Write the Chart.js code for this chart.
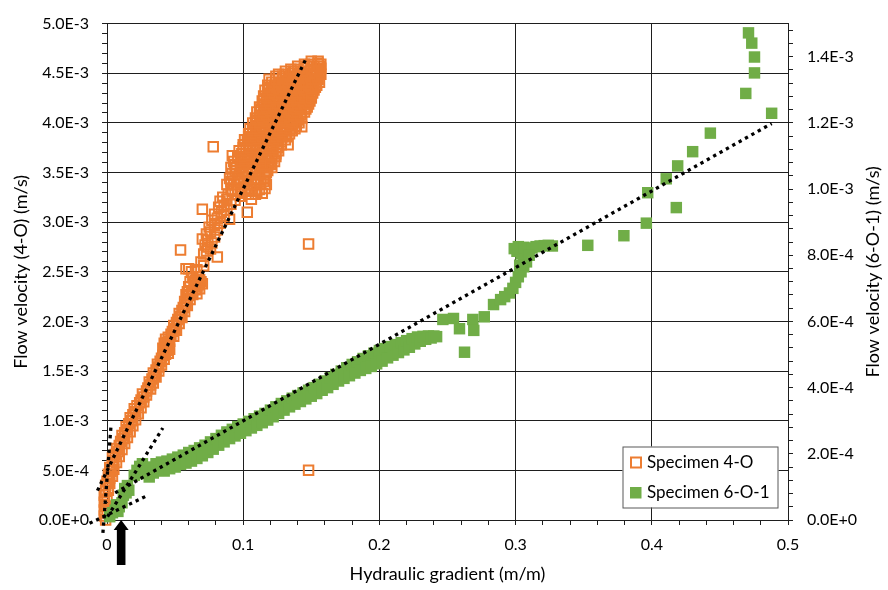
<!DOCTYPE html>
<html>
<head>
<meta charset="utf-8">
<script src="https://cdn.jsdelivr.net/npm/chart.js@4.4.1/dist/chart.umd.min.js"></script>
<style>
  html, body { margin: 0; padding: 0; background: #fff; }
  #wrap { width: 888px; height: 590px; }
</style>
</head>
<body>
<div id="wrap"><canvas id="flowChart"></canvas></div>
<script>
// x = hydraulic gradient (m/m), y = flow velocity in units of 1E-3 m/s
var specimen4O = [
  [-0.001,0.00],[-0.002,0.04],[0.000,0.07],[-0.002,0.10],[-0.001,0.14],[-0.002,0.18],[0.000,0.21],[-0.002,0.25],
  [-0.001,0.29],[0.001,0.32],[-0.001,0.35],[0.000,0.39],[0.002,0.42],[0.001,0.46],[0.003,0.49],[0.002,0.53],
  [0.004,0.56],[0.005,0.60],[0.004,0.63],[0.006,0.66],[0.008,0.69],[0.007,0.72],[0.009,0.75],[0.010,0.79],
  [0.012,0.82],[0.011,0.85],[0.013,0.88],[0.015,0.91],[0.014,0.94],[0.016,0.97],[0.018,1.00],[0.017,1.03],
  [0.019,1.06],[0.021,1.09],[0.020,1.12],[0.022,1.15],[0.024,1.18],[0.025,1.21],[0.027,1.24],[0.026,1.27],
  [0.029,1.30],[0.030,1.33],[0.032,1.36],[0.031,1.39],[0.033,1.42],[0.035,1.45],[0.034,1.48],[0.036,1.51],
  [0.038,1.54],[0.037,1.57],[0.039,1.60],[0.040,1.63],
  [0.001,0.30],[0.002,0.37],[0.004,0.44],[0.005,0.51],[0.007,0.58],[0.009,0.64],[0.011,0.71],[0.013,0.77],
  [0.015,0.83],[0.017,0.89],[0.019,0.95],[0.021,1.01],[0.023,1.07],[0.025,1.13],[0.027,1.19],[0.029,1.26],
  [0.032,1.32],[0.034,1.38],[0.036,1.44],[0.038,1.50],[0.040,1.56],[0.042,1.62],
  [0.041,1.66],[0.043,1.67],[0.045,1.68],[0.042,1.70],[0.044,1.71],[0.046,1.72],[0.041,1.73],[0.043,1.75],
  [0.045,1.76],[0.042,1.78],[0.044,1.79],[0.046,1.80],[0.043,1.82],[0.045,1.84],
  [0.047,1.87],[0.048,1.90],[0.050,1.93],[0.049,1.96],[0.051,1.99],[0.052,2.02],[0.054,2.05],[0.053,2.08],
  [0.055,2.11],[0.056,2.14],[0.058,2.17],[0.057,2.20],[0.059,2.23],
  [0.049,1.85],[0.051,1.91],[0.053,1.98],[0.055,2.04],[0.057,2.10],[0.059,2.16],[0.061,2.22],
  [0.060,2.26],[0.063,2.27],[0.066,2.28],[0.059,2.30],[0.062,2.31],[0.065,2.32],[0.068,2.33],[0.060,2.35],
  [0.064,2.36],[0.067,2.37],[0.070,2.38],[0.061,2.40],[0.065,2.41],[0.068,2.42],[0.063,2.44],[0.066,2.45],
  [0.062,2.29],[0.066,2.35],[0.069,2.40],[0.064,2.39],[0.058,2.27],
  [0.060,2.53],[0.062,2.50],[0.066,2.52],[0.069,2.60],[0.071,2.56],[0.058,2.53],
  [0.054,2.72],[0.081,2.65],[0.070,2.83],[0.074,2.75],
  [0.071,2.68],[0.073,2.71],[0.076,2.73],[0.072,2.77],[0.077,2.79],[0.074,2.82],[0.079,2.85],[0.073,2.88],
  [0.076,2.90],[0.081,2.92],[0.075,2.95],[0.079,2.97],[0.083,2.99],[0.077,3.02],[0.081,3.04],[0.086,3.06],
  [0.090,3.03],[0.079,3.08],[0.084,3.10],[0.088,3.12],[0.103,3.10],[0.070,3.13],[0.082,3.15],[0.086,3.17],
  [0.091,3.18],[0.083,3.21],[0.088,3.23],[0.094,3.22],[0.106,3.23],[0.085,3.25],[0.098,3.26],
  [0.089,3.28],[0.094,3.28],[0.099,3.29],[0.104,3.28],[0.109,3.28],[0.114,3.29],
  [0.092,3.31],[0.098,3.31],[0.104,3.31],[0.110,3.31],
  [0.091,3.33],[0.096,3.33],[0.101,3.34],[0.106,3.33],[0.112,3.33],[0.116,3.34],
  [0.088,3.38],[0.093,3.38],[0.098,3.39],[0.103,3.38],[0.108,3.38],[0.113,3.39],[0.117,3.38],
  [0.091,3.41],[0.097,3.41],[0.103,3.41],[0.109,3.41],[0.115,3.41],
  [0.090,3.44],[0.096,3.44],[0.101,3.45],[0.106,3.44],[0.111,3.44],[0.116,3.45],
  [0.092,3.49],[0.097,3.49],[0.102,3.50],[0.107,3.49],[0.112,3.49],[0.117,3.50],
  [0.094,3.52],[0.100,3.52],[0.106,3.52],[0.112,3.52],[0.118,3.52],
  [0.091,3.55],[0.095,3.55],[0.100,3.56],[0.105,3.55],[0.110,3.55],[0.115,3.56],[0.121,3.55],
  [0.094,3.58],[0.099,3.58],[0.104,3.58],[0.109,3.58],[0.114,3.58],[0.119,3.58],
  [0.093,3.61],[0.098,3.61],[0.103,3.62],[0.108,3.61],[0.113,3.61],[0.118,3.62],[0.123,3.61],
  [0.096,3.64],[0.101,3.64],[0.106,3.64],[0.111,3.64],[0.116,3.64],[0.121,3.64],
  [0.096,3.66],[0.101,3.66],[0.106,3.67],[0.111,3.66],[0.116,3.66],[0.121,3.67],[0.124,3.66],
  [0.099,3.69],[0.104,3.69],[0.109,3.69],[0.114,3.69],[0.119,3.69],[0.124,3.69],
  [0.097,3.72],[0.102,3.72],[0.107,3.73],[0.112,3.72],[0.117,3.72],[0.122,3.73],[0.126,3.72],
  [0.100,3.75],[0.105,3.75],[0.110,3.75],[0.115,3.75],[0.120,3.75],[0.125,3.75],
  [0.100,3.78],[0.105,3.78],[0.110,3.79],[0.115,3.78],[0.120,3.78],[0.125,3.79],[0.128,3.78],
  [0.103,3.81],[0.108,3.81],[0.113,3.81],[0.118,3.81],[0.123,3.81],[0.128,3.81],
  [0.101,3.83],[0.106,3.83],[0.111,3.84],[0.116,3.83],[0.121,3.83],[0.126,3.84],[0.131,3.83],
  [0.104,3.86],[0.109,3.86],[0.114,3.86],[0.119,3.86],[0.124,3.86],[0.129,3.86],[0.132,3.86],
  [0.104,3.89],[0.109,3.89],[0.114,3.90],[0.119,3.89],[0.124,3.89],[0.129,3.90],[0.134,3.89],
  [0.107,3.92],[0.112,3.92],[0.117,3.92],[0.122,3.92],[0.127,3.92],[0.132,3.92],[0.136,3.92],
  [0.105,3.94],[0.110,3.94],[0.115,3.95],[0.120,3.94],[0.125,3.94],[0.130,3.95],[0.135,3.94],[0.138,3.94],
  [0.109,3.97],[0.114,3.97],[0.119,3.97],[0.124,3.97],[0.129,3.97],[0.134,3.97],[0.139,3.97],
  [0.107,4.00],[0.112,4.00],[0.117,4.01],[0.122,4.00],[0.127,4.00],[0.132,4.01],[0.137,4.00],[0.141,4.00],
  [0.110,4.03],[0.115,4.03],[0.120,4.03],[0.125,4.03],[0.130,4.03],[0.135,4.03],[0.140,4.03],
  [0.109,4.05],[0.114,4.05],[0.119,4.06],[0.124,4.05],[0.129,4.05],[0.134,4.06],[0.139,4.05],[0.143,4.05],
  [0.112,4.08],[0.117,4.08],[0.122,4.08],[0.127,4.08],[0.132,4.08],[0.137,4.08],[0.142,4.08],
  [0.110,4.11],[0.115,4.11],[0.120,4.12],[0.125,4.11],[0.130,4.11],[0.135,4.12],[0.140,4.11],[0.145,4.11],
  [0.113,4.14],[0.118,4.14],[0.123,4.14],[0.128,4.14],[0.133,4.14],[0.138,4.14],[0.143,4.14],[0.146,4.14],
  [0.112,4.16],[0.117,4.16],[0.122,4.17],[0.127,4.16],[0.132,4.16],[0.137,4.17],[0.142,4.16],[0.147,4.16],
  [0.115,4.19],[0.120,4.19],[0.125,4.19],[0.130,4.19],[0.135,4.19],[0.140,4.19],[0.145,4.19],[0.148,4.19],
  [0.114,4.22],[0.119,4.22],[0.124,4.23],[0.129,4.22],[0.134,4.22],[0.139,4.23],[0.144,4.22],[0.149,4.22],
  [0.117,4.25],[0.122,4.25],[0.127,4.25],[0.132,4.25],[0.137,4.25],[0.142,4.25],[0.147,4.25],
  [0.115,4.27],[0.120,4.27],[0.125,4.28],[0.130,4.27],[0.135,4.27],[0.140,4.28],[0.145,4.27],[0.150,4.27],
  [0.118,4.30],[0.123,4.30],[0.128,4.30],[0.133,4.30],[0.138,4.30],[0.143,4.30],[0.148,4.30],[0.151,4.30],
  [0.116,4.33],[0.121,4.33],[0.126,4.34],[0.131,4.33],[0.136,4.33],[0.141,4.34],[0.146,4.33],[0.152,4.33],
  [0.119,4.36],[0.124,4.36],[0.129,4.36],[0.134,4.36],[0.139,4.36],[0.144,4.36],[0.149,4.36],[0.153,4.36],
  [0.118,4.38],[0.123,4.38],[0.128,4.39],[0.133,4.38],[0.138,4.38],[0.143,4.39],[0.148,4.38],[0.154,4.38],
  [0.121,4.41],[0.126,4.41],[0.131,4.41],[0.136,4.41],[0.141,4.41],[0.146,4.41],[0.151,4.41],[0.156,4.41],
  [0.119,4.44],[0.124,4.44],[0.129,4.45],[0.134,4.44],[0.139,4.44],[0.144,4.45],[0.150,4.44],[0.155,4.44],
  [0.124,4.47],[0.129,4.47],[0.134,4.47],[0.139,4.47],[0.144,4.47],[0.149,4.47],[0.154,4.47],
  [0.126,4.49],[0.131,4.49],[0.136,4.50],[0.141,4.49],[0.146,4.49],[0.151,4.50],[0.157,4.49],
  [0.131,4.52],[0.137,4.52],[0.142,4.52],[0.147,4.52],[0.152,4.52],[0.156,4.52],
  [0.135,4.54],[0.140,4.54],[0.145,4.55],[0.150,4.54],[0.154,4.54],[0.157,4.55],
  [0.140,4.57],[0.147,4.57],[0.152,4.57],[0.156,4.57],
  [0.145,4.59],[0.150,4.59],[0.155,4.60],[0.157,4.59],[0.150,4.62],[0.155,4.62],
  [0.078,3.76],[0.092,3.67],[0.120,3.58],[0.133,3.78],[0.143,3.96],[0.150,4.25],[0.116,3.48],
  [0.148,2.78],[0.148,0.50]
];

// right axis, units of 1E-3 m/s
var specimen6O1 = [
  [0.002,0.010],[0.004,0.022],[0.006,0.030],[0.008,0.026],[0.009,0.040],[0.007,0.046],[0.011,0.052],
  [0.012,0.075],[0.014,0.082],[0.013,0.095],[0.015,0.104],[0.016,0.090],
  [0.020,0.135],[0.022,0.150],[0.024,0.162],[0.026,0.170],[0.023,0.140],[0.027,0.155],[0.029,0.148],
  [0.031,0.130],[0.032,0.160],[0.034,0.142],[0.036,0.170],[0.038,0.150],[0.040,0.175],[0.042,0.148],
  [0.044,0.178],[0.046,0.155],[0.048,0.184],[0.050,0.160],[0.052,0.190],[0.054,0.168],[0.056,0.196],
  [0.058,0.172],[0.060,0.204],[0.062,0.178],[0.064,0.210],[0.066,0.186],[0.068,0.218],[0.070,0.194],
  [0.072,0.226],[0.074,0.204],[0.076,0.236],[0.078,0.214],[0.080,0.246],[0.082,0.226],[0.084,0.256],
  [0.086,0.236],[0.088,0.266],[0.090,0.246],[0.092,0.274],[0.094,0.254],[0.096,0.282],[0.098,0.262],
  [0.100,0.290],[0.102,0.270],[0.104,0.298],[0.106,0.278],[0.108,0.306],[0.110,0.286],[0.112,0.314],
  [0.114,0.294],[0.116,0.322],[0.118,0.302],[0.120,0.332],[0.122,0.312],[0.124,0.342],[0.126,0.322],
  [0.128,0.352],[0.130,0.332],[0.132,0.360],[0.134,0.342],[0.136,0.368],[0.138,0.350],[0.140,0.376],
  [0.142,0.358],[0.144,0.384],[0.146,0.366],[0.148,0.392],[0.150,0.374],
  [0.152,0.400],[0.154,0.382],[0.156,0.410],[0.158,0.392],[0.160,0.420],[0.162,0.400],[0.164,0.430],
  [0.166,0.410],[0.168,0.440],[0.170,0.420],[0.172,0.450],[0.174,0.428],[0.176,0.460],[0.178,0.436],
  [0.180,0.470],[0.182,0.444],[0.184,0.478],[0.186,0.452],[0.188,0.488],[0.190,0.458],[0.192,0.496],
  [0.194,0.464],[0.196,0.504],[0.198,0.472],[0.200,0.512],[0.202,0.480],[0.204,0.518],[0.206,0.490],
  [0.208,0.524],[0.210,0.498],[0.212,0.530],[0.214,0.506],[0.216,0.536],[0.218,0.514],[0.220,0.542],
  [0.222,0.522],[0.224,0.548],[0.226,0.532],[0.228,0.553],[0.230,0.540],[0.232,0.555],[0.234,0.546],
  [0.236,0.556],[0.238,0.550],[0.240,0.556],[0.242,0.554],
  [0.2466,0.606],[0.2544,0.609],[0.2588,0.578],[0.2625,0.507],[0.2686,0.606],[0.2693,0.573],
  [0.277,0.614],[0.2838,0.651],[0.289,0.666],[0.2955,0.686],
  [0.292,0.675],[0.298,0.700],[0.300,0.718],[0.302,0.735],[0.304,0.750],[0.306,0.765],[0.308,0.780],
  [0.306,0.795],[0.304,0.805],[0.301,0.812],[0.299,0.820],[0.302,0.826],[0.306,0.824],[0.309,0.818],
  [0.312,0.822],[0.315,0.826],[0.318,0.828],[0.321,0.829],[0.324,0.830],[0.327,0.828],[0.310,0.800],
  [0.303,0.770],
  [0.353,0.830],[0.3795,0.859],[0.396,0.897],[0.397,0.989],[0.4106,1.031],[0.418,0.944],[0.419,1.070],
  [0.430,1.113],[0.443,1.169],[0.469,1.289],[0.488,1.229],[0.4754,1.351],[0.4754,1.399],[0.4734,1.441],
  [0.471,1.472]
];

// dotted trend lines (end points)
var trend4O = [[-0.007, 0.296], [0.1466, 4.66]];
var trend4OStart = [[-0.003, -0.13], [0.003, 0.96]];
var trend6O1 = [[0.006, 0.082], [0.488, 1.198]];
var trend6O1Start = [[0.0004, 0.01], [0.041, 0.278]];
var trend6O1Low = [[-0.0128, -0.01], [0.030, 0.0745]];

var seriesNames = ['Specimen 4-O', 'Specimen 6-O-1'];

var xMajor = [0, 0.1, 0.2, 0.3, 0.4, 0.5];
var xLabels = ['0', '0.1', '0.2', '0.3', '0.4', '0.5'];
var leftMajor = [0, 0.5, 1, 1.5, 2, 2.5, 3, 3.5, 4, 4.5, 5];
var leftLabels = ['0.0E+0', '5.0E-4', '1.0E-3', '1.5E-3', '2.0E-3', '2.5E-3', '3.0E-3', '3.5E-3', '4.0E-3', '4.5E-3', '5.0E-3'];
var rightMajor = [0, 0.2, 0.4, 0.6, 0.8, 1.0, 1.2, 1.4];
var rightLabels = ['0.0E+0', '2.0E-4', '4.0E-4', '6.0E-4', '8.0E-4', '1.0E-3', '1.2E-3', '1.4E-3'];

var arrowAt = 0.0104;

var orange = '#ED7D31';
var green = '#70AD47';
var lineCol = '#1e1e1e';
var fontFam = 'Lato, "Open Sans", sans-serif';

function pts(a) {
  return a.map(function (p) { return {x: p[0], y: p[1]}; });
}

function majorIndex(v, list) {
  for (var i = 0; i < list.length; i++) {
    if (Math.abs(v - list[i]) < 1e-6) return i;
  }
  return -1;
}

function trendSet(name, data, axis) {
  return {
    label: name,
    data: pts(data),
    yAxisID: axis,
    showLine: true,
    pointRadius: 0,
    borderColor: '#000',
    borderWidth: 3.3,
    borderDash: [3.3, 4],
    borderCapStyle: 'butt',
    clip: false,
    order: 0
  };
}

var extras = {
  id: 'extras',
  afterDraw: function (chart) {
    var c = chart.ctx;
    var area = chart.chartArea;
    c.save();

    // right axis title, reads bottom to top
    c.fillStyle = '#000';
    c.font = '18px ' + fontFam;
    c.textAlign = 'center';
    c.textBaseline = 'middle';
    c.translate(873, (area.top + area.bottom) / 2);
    c.rotate(-Math.PI / 2);
    c.fillText('Flow velocity (6-O-1) (m/s)', 0, 0);
    c.setTransform(1, 0, 0, 1, 0, 0);

    // arrow under the x axis
    var ax = chart.scales.x.getPixelForValue(arrowAt);
    var b = area.bottom;
    c.fillStyle = '#000';
    c.beginPath();
    c.moveTo(ax, b);
    c.lineTo(ax + 7.5, b + 10);
    c.lineTo(ax + 4.3, b + 10);
    c.lineTo(ax + 4.3, b + 45);
    c.lineTo(ax - 4.3, b + 45);
    c.lineTo(ax - 4.3, b + 10);
    c.lineTo(ax - 7.5, b + 10);
    c.closePath();
    c.fill();

    // legend box
    var lx = area.right - 165.5, ly = area.bottom - 73.5;
    c.fillStyle = '#fff';
    c.fillRect(lx, ly, 156, 61);
    c.strokeStyle = '#595959';
    c.lineWidth = 1;
    c.strokeRect(lx + 0.5, ly + 0.5, 155, 61);

    c.strokeStyle = orange;
    c.lineWidth = 2;
    c.strokeRect(lx + 8.5, ly + 11, 10, 10);
    c.fillStyle = green;
    c.fillRect(lx + 7.5, ly + 40.5, 11.5, 11.5);

    c.fillStyle = '#000';
    c.font = '17px ' + fontFam;
    c.textAlign = 'left';
    c.textBaseline = 'middle';
    c.fillText(seriesNames[0], lx + 24.5, ly + 16.5);
    c.fillText(seriesNames[1], lx + 24.5, ly + 46.5);
    c.restore();
  }
};

var ctx = document.getElementById('flowChart');
var myChart = new Chart(ctx, {
  type: 'scatter',
  data: {
    datasets: [
      trendSet('trend 4-O', trend4O, 'y'),
      trendSet('trend 4-O start', trend4OStart, 'y'),
      trendSet('trend 6-O-1', trend6O1, 'y2'),
      trendSet('trend 6-O-1 start', trend6O1Start, 'y2'),
      trendSet('trend 6-O-1 low', trend6O1Low, 'y2'),
      {
        label: seriesNames[1],
        data: pts(specimen6O1),
        yAxisID: 'y2',
        pointStyle: 'rect',
        pointRadius: 8.1,
        pointBackgroundColor: green,
        pointBorderWidth: 0,
        clip: false,
        order: 1
      },
      {
        label: seriesNames[0],
        data: pts(specimen4O),
        yAxisID: 'y',
        pointStyle: 'rect',
        pointRadius: 6.7,
        pointBackgroundColor: 'rgba(0,0,0,0)',
        pointBorderColor: orange,
        pointBorderWidth: 2,
        clip: false,
        order: 2
      }
    ]
  },
  options: {
    responsive: true,
    maintainAspectRatio: false,
    animation: false,
    events: [],
    layout: { padding: { top: 16, left: 0, right: 0, bottom: 0 } },
    plugins: {
      legend: { display: false },
      tooltip: { enabled: false }
    },
    scales: {
      x: {
        type: 'linear',
        min: 0,
        max: 0.5,
        afterFit: function (s) { s.height = 70; },
        ticks: {
          stepSize: 0.02,
          autoSkip: false,
          maxRotation: 0,
          padding: 10,
          color: '#000',
          font: { family: fontFam, size: 16 },
          callback: function (v) {
            var i = majorIndex(v, xMajor);
            return i < 0 ? '' : xLabels[i];
          }
        },
        grid: {
          color: function (c) { return c.tick && majorIndex(c.tick.value, xMajor) >= 0 ? lineCol : 'rgba(0,0,0,0)'; },
          tickColor: lineCol,
          tickLength: 5
        },
        border: { color: lineCol },
        title: {
          display: true,
          text: 'Hydraulic gradient (m/m)',
          color: '#000',
          font: { family: fontFam, size: 18 },
          padding: { top: 0, bottom: 5 }
        }
      },
      y: {
        type: 'linear',
        position: 'left',
        min: 0,
        max: 5,
        afterFit: function (s) { s.width = 107; },
        ticks: {
          stepSize: 0.1,
          autoSkip: false,
          padding: 13,
          color: '#000',
          font: { family: fontFam, size: 16 },
          callback: function (v) {
            var i = majorIndex(v, leftMajor);
            return i < 0 ? '' : leftLabels[i];
          }
        },
        grid: {
          color: function (c) { return c.tick && majorIndex(c.tick.value, leftMajor) >= 0 ? lineCol : 'rgba(0,0,0,0)'; },
          tickColor: lineCol,
          tickLength: 5
        },
        border: { color: lineCol },
        title: {
          display: true,
          text: 'Flow velocity (4-O) (m/s)',
          color: '#000',
          font: { family: fontFam, size: 18 },
          padding: { top: 10, bottom: 0 }
        }
      },
      y2: {
        type: 'linear',
        position: 'right',
        min: 0,
        max: 1.5,
        afterFit: function (s) { s.width = 100; },
        ticks: {
          stepSize: 0.04,
          includeBounds: false,
          autoSkip: false,
          padding: 14,
          color: '#000',
          font: { family: fontFam, size: 16 },
          callback: function (v) {
            var i = majorIndex(v, rightMajor);
            return i < 0 ? '' : rightLabels[i];
          }
        },
        grid: {
          drawOnChartArea: false,
          tickColor: lineCol,
          tickLength: 5
        },
        border: { color: lineCol }
      }
    }
  },
  plugins: [extras]
});
</script>
</body>
</html>
